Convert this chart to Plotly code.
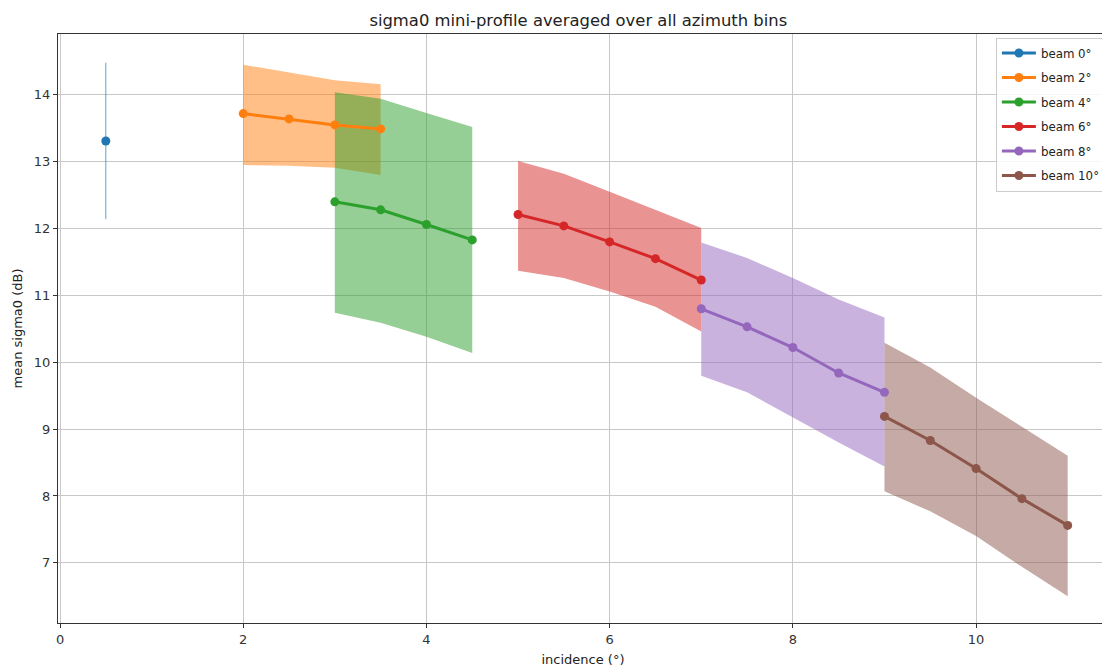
import plotly.graph_objects as go

colors = ["#1f77b4", "#ff7f0e", "#2ca02c", "#d62728", "#9467bd", "#8c564b"]
fills = ["rgba(31,119,180,0.5)", "rgba(255,127,14,0.5)", "rgba(44,160,44,0.5)",
         "rgba(214,39,40,0.5)", "rgba(148,103,189,0.5)", "rgba(140,86,75,0.5)"]
names = ["beam 0°", "beam 2°", "beam 4°", "beam 6°", "beam 8°", "beam 10°"]

beam0_x = [0.5]
beam0_y = [13.31]
beam0_err = [1.17]

inc = [
    [2.0, 2.5, 3.0, 3.5],
    [3.0, 3.5, 4.0, 4.5],
    [5.0, 5.5, 6.0, 6.5, 7.0],
    [7.0, 7.5, 8.0, 8.5, 9.0],
    [9.0, 9.5, 10.0, 10.5, 11.0],
]
mean = [
    [13.72, 13.64, 13.55, 13.49],
    [12.40, 12.28, 12.06, 11.83],
    [12.21, 12.04, 11.80, 11.55, 11.23],
    [10.80, 10.53, 10.22, 9.84, 9.55],
    [9.19, 8.83, 8.41, 7.96, 7.56],
]
upper = [
    [14.45, 14.33, 14.22, 14.16],
    [14.04, 13.94, 13.73, 13.52],
    [13.01, 12.82, 12.55, 12.28, 12.01],
    [11.79, 11.56, 11.26, 10.94, 10.67],
    [10.29, 9.92, 9.47, 9.04, 8.60],
]
lower = [
    [12.95, 12.94, 12.91, 12.80],
    [10.74, 10.59, 10.38, 10.14],
    [11.37, 11.26, 11.06, 10.83, 10.46],
    [9.80, 9.55, 9.17, 8.80, 8.44],
    [8.07, 7.77, 7.40, 6.94, 6.50],
]

fig = go.Figure()

# bands
for i in range(5):
    xs = inc[i] + inc[i][::-1]
    ys = upper[i] + lower[i][::-1]
    fig.add_trace(go.Scatter(x=xs, y=ys, fill="toself", fillcolor=fills[i + 1],
                             line=dict(width=0), mode="lines", showlegend=False,
                             hoverinfo="skip"))

# beam 0 with error bar
fig.add_trace(go.Scatter(x=beam0_x, y=beam0_y, mode="lines+markers", name=names[0],
                         legendgroup="g0",
                         line=dict(color=colors[0], width=3),
                         marker=dict(color=colors[0], size=9),
                         error_y=dict(type="data", array=beam0_err, color="rgba(31,119,180,0.7)",
                                      thickness=1, width=0)))

for i in range(5):
    fig.add_trace(go.Scatter(x=inc[i], y=mean[i], mode="lines+markers", name=names[i + 1],
                             legendgroup="g%d" % (i + 1),
                             line=dict(color=colors[i + 1], width=3),
                             marker=dict(color=colors[i + 1], size=9)))

axis_common = dict(showgrid=True, gridcolor="#c8c8c8", gridwidth=1, showline=True,
                   linecolor="#333", linewidth=1, mirror=True, ticks="outside",
                   ticklen=4, tickcolor="#333", zeroline=False,
                   tickfont=dict(size=13, color="#333"))

fig.update_layout(
    width=1102, height=660,
    paper_bgcolor="white", plot_bgcolor="white",
    font=dict(family="DejaVu Sans", size=13, color="#222"),
    margin=dict(l=50, r=2, t=26, b=45),
    title=dict(text="sigma0 mini-profile averaged over all azimuth bins", x=0.5175,
               xanchor="center", yref="container", y=0.981, yanchor="middle",
               font=dict(size=16.4, color="#222")),
    xaxis=dict(range=[-0.022, 11.44], tickvals=[0, 2, 4, 6, 8, 10],
               title=dict(text="incidence (°)", font=dict(size=13), standoff=9), **axis_common),
    yaxis=dict(range=[6.10, 14.91], tickvals=[7, 8, 9, 10, 11, 12, 13, 14],
               title=dict(text="mean sigma0 (dB)", font=dict(size=13), standoff=8), **axis_common),
    legend=dict(x=0.998, y=0.994, xanchor="right", yanchor="top", bgcolor="rgba(255,255,255,0.85)",
                bordercolor="#cccccc", borderwidth=1, font=dict(size=11.8, color="#222"),
                itemwidth=34, tracegroupgap=5.5),
)

fig.write_html("out.html")
